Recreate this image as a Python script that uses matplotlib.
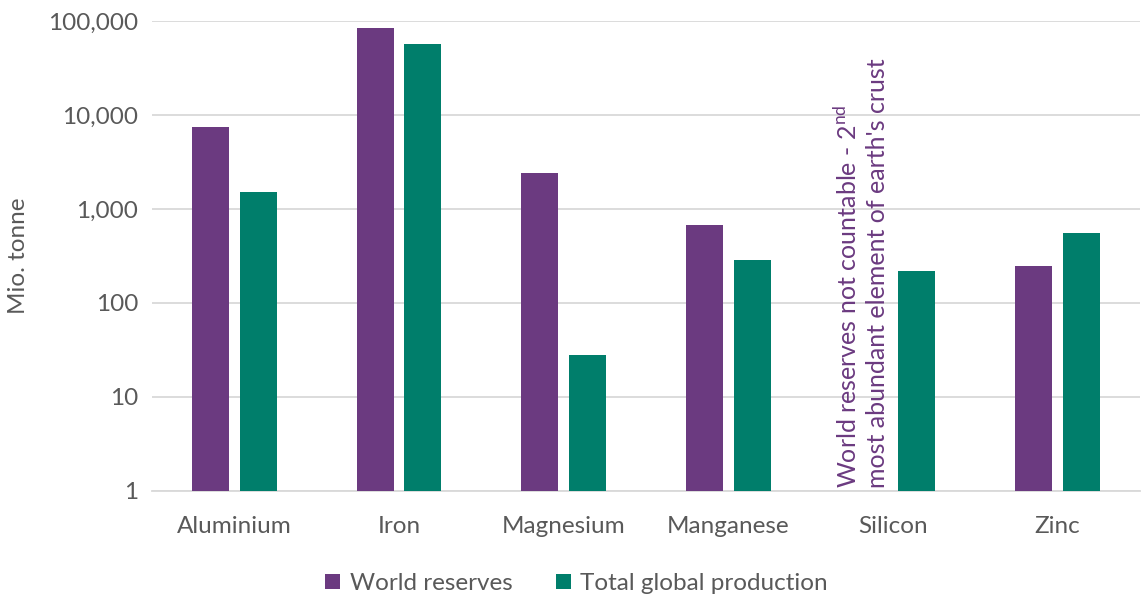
import matplotlib.pyplot as plt
import numpy as np

# Reserves vs. production of selected metals (Mio. tonne, log scale)
metals = ['Aluminium', 'Iron', 'Magnesium', 'Manganese', 'Silicon', 'Zinc']
world_reserves = [7500, 85000, 2400, 680, np.nan, 250]
global_production = [1500, 57000, 28, 290, 220, 550]
ytick_values = [1, 10, 100, 1000, 10000, 100000]
ytick_labels = ['1', '10', '100', '1,000', '10,000', '100,000']

PURPLE = '#6B3A80'
TEAL = '#007E6B'
TEXT = '#595959'
GRID = '#D9D9D9'

plt.rcParams['font.family'] = ['Lato', 'DejaVu Sans']
plt.rcParams['mathtext.fontset'] = 'custom'
plt.rcParams['mathtext.rm'] = 'Lato'

fig = plt.figure(figsize=(11.42, 5.95), dpi=100)
ax = fig.add_axes([0.1331, 0.1748, 0.865, 0.7899])

x = np.arange(len(metals))
w = 0.224
off = 0.145
ax.bar(x - off, world_reserves, width=w, color=PURPLE, label='World reserves', zorder=3)
ax.bar(x + off, global_production, width=w, color=TEAL, label='Total global production', zorder=3)

ax.set_yscale('log')
ax.set_ylim(1, 100000)
ax.set_xlim(-0.5, len(metals) - 0.5)
ax.set_yticks(ytick_values)
ax.set_yticklabels(ytick_labels)
ax.minorticks_off()
ax.set_xticks(x)
ax.set_xticklabels(metals)
ax.tick_params(axis='both', length=0, colors=TEXT, labelsize=17.5)
ax.tick_params(axis='x', pad=18)
ax.tick_params(axis='y', pad=10)

ax.grid(axis='y', color=GRID, linewidth=1.3, zorder=0)
for side in ['left', 'right', 'top']:
    ax.spines[side].set_visible(False)
ax.spines['bottom'].set_color(GRID)
ax.spines['bottom'].set_linewidth(1.3)

ax.set_ylabel('Mio. tonne', color=TEXT, fontsize=17.5, labelpad=14)

# note in place of the missing silicon reserves bar
si = metals.index('Silicon')
ax.text(si - off - 0.045, 1.07,
        'World reserves not countable - 2$^{\\mathrm{nd}}$\nmost abundant element of earth\'s crust',
        rotation=90, ha='center', va='bottom', multialignment='left',
        color=PURPLE, fontsize=18, linespacing=1.3)

leg = fig.legend(loc='lower center', bbox_to_anchor=(0.505, -0.035), ncol=2,
                 frameon=False, fontsize=17.5, handlelength=0.6, handleheight=0.6,
                 handletextpad=0.4, columnspacing=1.8)
for t in leg.get_texts():
    t.set_color(TEXT)

fig.savefig('out.png', dpi=100)
